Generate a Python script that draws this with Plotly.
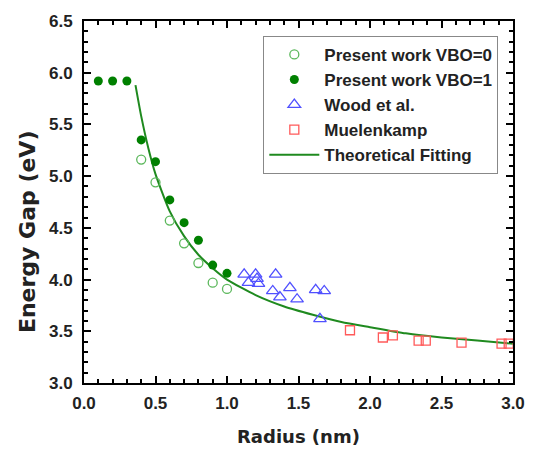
import plotly.graph_objects as go

# ---- data ----
vbo0_x = [0.4, 0.5, 0.6, 0.7, 0.8, 0.9, 1.0]
vbo0_y = [5.16, 4.94, 4.57, 4.35, 4.16, 3.97, 3.91]

vbo1_x = [0.1, 0.2, 0.3, 0.4, 0.5, 0.6, 0.7, 0.8, 0.9, 1.0]
vbo1_y = [5.92, 5.92, 5.92, 5.35, 5.14, 4.77, 4.55, 4.38, 4.14, 4.06]

wood_x = [1.12, 1.20, 1.15, 1.21, 1.22, 1.34, 1.32, 1.37, 1.44, 1.49, 1.62, 1.68, 1.65]
wood_y = [4.05, 4.05, 3.97, 4.01, 3.96, 4.05, 3.89, 3.83, 3.92, 3.81, 3.90, 3.89, 3.62]

muel_x = [1.86, 2.09, 2.16, 2.34, 2.39, 2.64, 2.92, 2.97]
muel_y = [3.51, 3.44, 3.46, 3.41, 3.41, 3.39, 3.38, 3.38]

fit_x = [0.36, 0.40, 0.45, 0.50, 0.60, 0.70, 0.80, 0.90, 1.00, 1.20, 1.40,
         1.60, 1.80, 2.00, 2.25, 2.50, 2.75, 3.00]
fit_y = [5.88, 5.58, 5.27, 5.02, 4.66, 4.42, 4.24, 4.11, 4.00, 3.85, 3.74,
         3.66, 3.59, 3.54, 3.48, 3.44, 3.41, 3.38]

x_range = [0.0, 3.0]
y_range = [3.0, 6.5]
major_step = 0.5
minor_step = 0.1

fig = go.Figure()

fig.add_trace(go.Scatter(
    x=fit_x, y=fit_y, mode="lines", name="Theoretical Fitting",
    line=dict(color="#1f8a1f", width=2, shape="spline", smoothing=0.6)))

fig.add_trace(go.Scatter(
    x=vbo0_x, y=vbo0_y, mode="markers", name="Present work VBO=0",
    marker=dict(symbol="circle-open", size=9, color="#5cb85c", line=dict(width=1.3))))

fig.add_trace(go.Scatter(
    x=vbo1_x, y=vbo1_y, mode="markers", name="Present work VBO=1",
    marker=dict(symbol="circle", size=9, color="#008000")))

fig.add_trace(go.Scatter(
    x=wood_x, y=wood_y, mode="markers", name="Wood et al.",
    marker=dict(symbol="triangle-up-open", size=11, color="#5050ff", line=dict(width=1.3))))

fig.add_trace(go.Scatter(
    x=muel_x, y=muel_y, mode="markers", name="Muelenkamp",
    marker=dict(symbol="square-open", size=9, color="#ff5a5a", line=dict(width=1.3))))

# legend order as in the reference: fitting line last
fig.update_layout(legend_traceorder="normal")
for i, tr in enumerate(fig.data):
    tr.legendrank = [5, 1, 2, 3, 4][i]


def axis_style(standoff):
    return dict(
        showline=True, linecolor="black", linewidth=2, mirror="allticks",
        ticks="inside", ticklen=7, tickwidth=2, tickcolor="black",
        showgrid=False, zeroline=False,
        tickfont=dict(family="Liberation Sans, Arial", size=17, color="#222222"),
        tickmode="linear", tick0=0, dtick=major_step, tickformat=".1f",
        ticklabelstandoff=standoff,
        minor=dict(ticks="inside", ticklen=4, tickwidth=2, tickcolor="black",
                   dtick=minor_step),
    )


fig.update_xaxes(range=x_range, **axis_style(4))
fig.update_yaxes(range=y_range, **axis_style(6))

fig.update_layout(
    width=537, height=457,
    margin=dict(l=84, r=17, t=13, b=74),
    paper_bgcolor="white", plot_bgcolor="white",
    font=dict(family="Liberation Sans, Arial", color="#222222"),
    legend=dict(
        x=0.418, y=0.959, xanchor="left", yanchor="top",
        bordercolor="#888888", borderwidth=1, bgcolor="white",
        font=dict(family="Liberation Sans, Arial", size=17, color="#222222"),
        itemwidth=50,
    ),
    annotations=[
        dict(text="<b>Radius (nm)</b>", xref="paper", yref="paper",
             x=0.5, y=-0.148, xanchor="center", yanchor="middle", showarrow=False,
             font=dict(family="DejaVu Sans", size=18, color="#222222")),
        dict(text="<b>Energy Gap (eV)</b>", xref="paper", yref="paper",
             x=-0.131, y=0.419, xanchor="center", yanchor="middle", showarrow=False,
             textangle=-90,
             font=dict(family="DejaVu Sans", size=22, color="#222222")),
    ],
)

# bold tick labels and legend names via markup
fig.update_xaxes(tickprefix="<b>", ticksuffix="</b>")
fig.update_yaxes(tickprefix="<b>", ticksuffix="</b>")
for tr in fig.data:
    tr.name = "<b>%s</b>" % tr.name

fig.write_html("out.html")
